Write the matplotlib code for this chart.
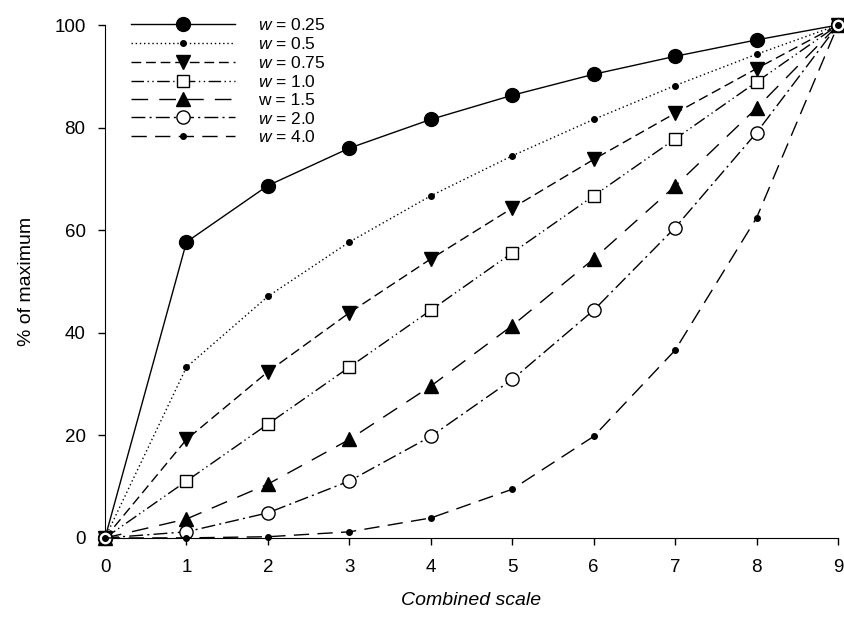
import numpy as np
import matplotlib.pyplot as plt

plt.rcParams['font.family'] = ['Liberation Sans', 'DejaVu Sans']
plt.rcParams['mathtext.fontset'] = 'custom'
plt.rcParams['mathtext.it'] = 'Liberation Sans:italic'
plt.rcParams['mathtext.rm'] = 'Liberation Sans'

x = [0, 1, 2, 3, 4, 5, 6, 7, 8, 9]

w025 = [0, 57.7, 68.7, 76.0, 81.6, 86.3, 90.4, 93.9, 97.1, 100]
w05 = [0, 33.3, 47.1, 57.7, 66.7, 74.5, 81.6, 88.2, 94.3, 100]
w075 = [0, 19.2, 32.4, 43.9, 54.4, 64.3, 73.8, 82.8, 91.5, 100]
w10 = [0, 11.1, 22.2, 33.3, 44.4, 55.6, 66.7, 77.8, 88.9, 100]
w15 = [0, 3.7, 10.5, 19.2, 29.6, 41.4, 54.4, 68.6, 83.8, 100]
w20 = [0, 1.2, 4.9, 11.1, 19.8, 30.9, 44.4, 60.5, 79.0, 100]
w40 = [0, 0.02, 0.24, 1.2, 3.9, 9.5, 19.8, 36.6, 62.4, 100]

labels = ['$w$ = 0.25', '$w$ = 0.5', '$w$ = 0.75', '$w$ = 1.0',
          'w = 1.5', '$w$ = 2.0', '$w$ = 4.0']

styles = [
    dict(ls='-', marker='o', ms=10, mfc='k'),
    dict(ls=(0, (1, 2)), marker='o', ms=4, mfc='k'),
    dict(ls=(0, (7, 3.5)), marker='v', ms=10, mfc='k'),
    dict(ls=(0, (9, 2.5, 1, 2.5, 1, 2.5)), marker='s', ms=9, mfc='white'),
    dict(ls=(0, (12, 8)), marker='^', ms=10, mfc='k'),
    dict(ls=(0, (10, 3, 1.5, 3)), marker='o', ms=9.5, mfc='white'),
    dict(ls=(0, (11, 6)), marker='o', ms=4, mfc='k'),
]

fig = plt.figure(figsize=(8.45, 6.21), dpi=100)
ax = fig.add_axes([0.1243, 0.1337, 0.8674, 0.826])

for ys, lab, st in zip([w025, w05, w075, w10, w15, w20, w40], labels, styles):
    ax.plot(x, ys, color='k', lw=1.0, mec='k', mew=1.0, label=lab,
            clip_on=False, zorder=3, **st)

ax.set_xlim(0, 9)
ax.set_ylim(0, 100)
ax.set_xticks(range(10))
ax.set_yticks([0, 20, 40, 60, 80, 100])
ax.spines['top'].set_visible(False)
ax.spines['right'].set_visible(False)
ax.tick_params(direction='out', length=5, width=1, labelsize=13.5)
ax.tick_params(axis='x', pad=10)
ax.tick_params(axis='y', pad=9)
ax.set_xlabel('Combined scale', fontsize=14, style='italic', labelpad=12)
ax.set_ylabel('% of maximum', fontsize=14, labelpad=14)

ax.legend(loc='upper left', bbox_to_anchor=(0.026, 1.029), frameon=False,
          fontsize=12.5, numpoints=1, handlelength=6.0, labelspacing=0.165,
          handletextpad=1.3, borderaxespad=0)

fig.savefig('out.png', dpi=100)
